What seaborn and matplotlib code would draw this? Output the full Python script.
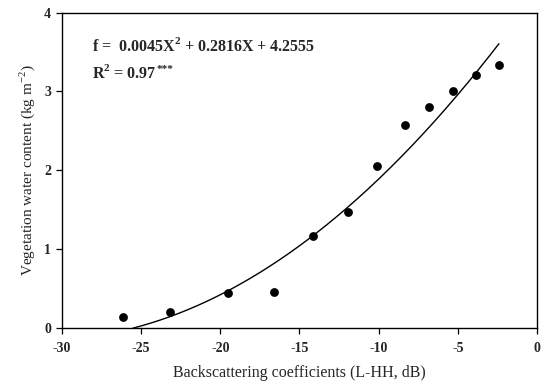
import numpy as np
import pandas as pd
import matplotlib
matplotlib.use("Agg")
import matplotlib.pyplot as plt
import seaborn as sns

# Data
backscatter_db = [-26.15, -23.17, -19.54, -16.6, -14.13, -11.94, -10.08, -8.35, -6.83, -5.30, -3.84, -2.41]
vwc = [0.14, 0.21, 0.44, 0.46, 1.17, 1.47, 2.05, 2.58, 2.80, 3.01, 3.21, 3.33]
coef = [0.0045, 0.2816, 4.2555]  # quadratic fit shown on the chart
x_ticks = [-30, -25, -20, -15, -10, -5, 0]
y_ticks = [0, 1, 2, 3, 4]

sns.set_style("ticks")
plt.rcParams['font.family'] = ['Liberation Serif', 'DejaVu Serif']
plt.rcParams['mathtext.fontset'] = 'custom'
plt.rcParams['mathtext.rm'] = 'Liberation Serif'
plt.rcParams['mathtext.bf'] = 'Liberation Serif:bold'

fig = plt.figure(figsize=(5.44, 3.82), dpi=100)
ax = fig.add_axes([0.114, 0.141, 0.873, 0.826])

df = pd.DataFrame({"x": backscatter_db, "y": vwc})
sns.scatterplot(data=df, x="x", y="y", ax=ax, color="black", s=40, edgecolor="black", linewidth=0, zorder=3)

a, b, c = coef
root = (-b + np.sqrt(b * b - 4 * a * c)) / (2 * a)
xc = np.linspace(root, -2.4, 200)
curve = pd.DataFrame({"x": xc, "y": a * xc ** 2 + b * xc + c})
sns.lineplot(data=curve, x="x", y="y", ax=ax, color="black", linewidth=1.0)

ax.set_xlim(-30, 0)
ax.set_ylim(0, 4)
ax.set_xticks(x_ticks)
ax.set_yticks(y_ticks)
ax.set_xticklabels([str(t) for t in x_ticks], fontweight='bold', fontsize=10)
ax.set_yticklabels([str(t) for t in y_ticks], fontweight='bold', fontsize=10)
ax.tick_params(axis='x', direction='out', length=4, width=0.9, color='black', pad=6)
ax.tick_params(axis='y', direction='out', length=4, width=0.9, color='black', pad=4)
for s in ax.spines.values():
    s.set_visible(True)
    s.set_linewidth(1.0)
    s.set_color('black')

ax.set_xlabel("Backscattering coefficients (L-HH, dB)", fontsize=11.5, labelpad=7)
ax.set_ylabel("Vegetation water content (kg m$^{-2}$)", fontsize=11, labelpad=5)

ax.text(-28.1, 3.58, r"f =  0.0045X$^{\mathbf{2}}$ + 0.2816X + 4.2555", fontsize=11.5, fontweight='bold', va='center')
r2 = ax.text(-28.1, 3.24, r"R$^{\mathbf{2}}$ = 0.97", fontsize=11.5, fontweight='bold', va='center')
ax.annotate("***", xy=(1.0, 1.0), xycoords=r2, xytext=(0.3, -1), textcoords='offset points',
            fontsize=8, fontweight='bold', va='top', ha='left')

fig.savefig("out.png", dpi=100)
